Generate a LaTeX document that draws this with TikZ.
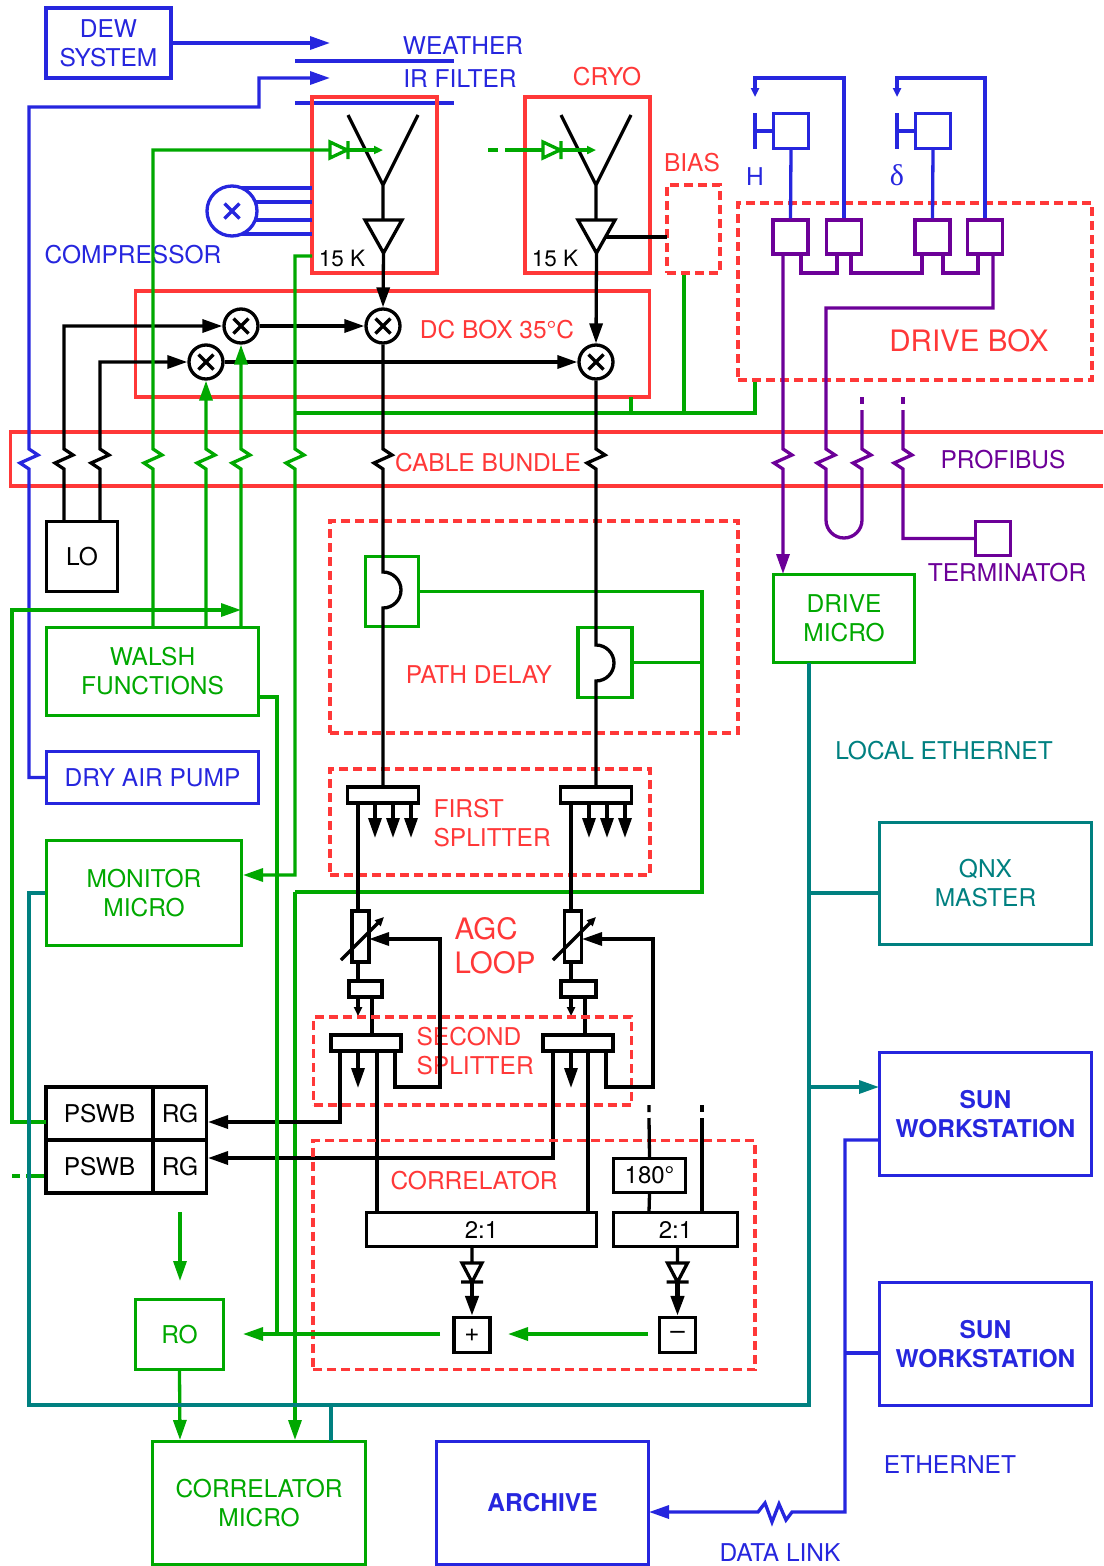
\documentclass[tikz,border=0pt]{standalone}
\usepackage{fontspec}
\setmainfont{TeX Gyre Heros}
\newfontfamily\greekfont{Liberation Serif}
\usepackage{tikz}
\usetikzlibrary{positioning, arrows.meta, calc}

\definecolor{rxblue}{RGB}{38,38,222}
\definecolor{rxred}{RGB}{255,56,56}
\definecolor{rxgreen}{RGB}{0,168,0}
\definecolor{rxpurple}{RGB}{108,0,152}
\definecolor{rxteal}{RGB}{0,128,128}

% break of a line where it runs through the cable bundle
\newcommand{\brkdn}{-- ++(9,6) -- ++(-18,8) -- ++(9,6)}
\newcommand{\brkup}{-- ++(-9,-6) -- ++(18,-8) -- ++(-9,-6)}

\begin{document}
\begin{tikzpicture}[
  x=1pt, y=-1pt,
  >={Triangle[length=20pt,width=13pt]},
  line width=3.3pt,
  every node/.style={font=\fontsize{24.5}{29}\selectfont, inner sep=0pt},
  unit/.style={draw, line width=3.3pt, align=center},
  bluebox/.style={unit, draw=rxblue, text=rxblue},
  greenbox/.style={unit, draw=rxgreen, text=rxgreen},
  tealbox/.style={unit, draw=rxteal, text=rxteal},
  pbox/.style={unit, draw=rxpurple, minimum width=35pt, minimum height=34pt},
  dbox/.style={draw=rxred, line width=3.3pt, dash pattern=on 9pt off 5pt},
  bar/.style={unit, fill=white, minimum height=16pt},
  mixer/.style={circle, draw=#1, line width=3.3pt, fill=white, minimum size=34pt,
    path picture={\draw[#1, line width=3.3pt]
      ([shift={(-7.5pt,-7.5pt)}]path picture bounding box.center) --
      ([shift={(7.5pt,7.5pt)}]path picture bounding box.center)
      ([shift={(-7.5pt,7.5pt)}]path picture bounding box.center) --
      ([shift={(7.5pt,-7.5pt)}]path picture bounding box.center);}},
  mixer/.default=black,
  bl/.style={draw=rxblue}, gr/.style={draw=rxgreen}, pu/.style={draw=rxpurple},
  tl/.style={draw=rxteal}, bk/.style={draw=black},
  tip/.style={-{Triangle[length=9pt,width=8pt]}}
]
\useasboundingbox (0,0) rectangle (1103,1566);

% ---- DEW SYSTEM and filters ----
\node[bluebox, minimum width=125pt, minimum height=70pt] (dew) at (108.5,43) {DEW\\SYSTEM};
\draw[bl,->] (dew.east) -- (330,43);
\draw[bl] (295,61) -- (454,61);
\draw[bl] (295,103) -- (454,103);
\node[text=rxblue] (weather) at (463,46) {WEATHER};
\node[text=rxblue] (irfilter) at (460,79) {IR FILTER};

% ---- CRYO ----
\node[unit, draw=rxred, minimum width=125pt, minimum height=176pt] (cryoL) at (374.5,185) {};
\node[unit, draw=rxred, minimum width=125pt, minimum height=176pt] (cryoR) at (587.5,185) {};
\node[text=rxred] (cryo) at (607,77) {CRYO};
\node[font=\fontsize{22.5}{24}\selectfont] (kL) at (342,258) {15 K};
\node[font=\fontsize{22.5}{24}\selectfont] (kR) at (555,258) {15 K};
\node[dbox, minimum width=53pt, minimum height=88pt] (bias) at (693.5,229) {};
\node[text=rxred] (biaslbl) at (692,163) {BIAS};

% ---- DC BOX ----
\node[unit, draw=rxred, minimum width=514pt, minimum height=106pt] (dcbox) at (392.5,344) {};
\node[text=rxred] (dclbl) at (497,330) {DC BOX 35°C};
\node[mixer] (m1) at (241,326) {};
\node[mixer] (m2) at (206,362) {};
\node[mixer] (m3) at (383,326) {};
\node[mixer] (m4) at (596,362) {};

% ---- CABLE BUNDLE ----
\draw[draw=rxred] (1103,432) -- (10.5,432) -- (10.5,486) -- (1103,486);
\node[text=rxred] (cablelbl) at (488,463) {CABLE BUNDLE};
\node[text=rxpurple] (profibus) at (1003,460) {PROFIBUS};

% ---- compressor ----
\foreach \y in {188,202,220,234} \draw[bl] (240,\y) -- (312,\y);
\node[mixer=rxblue, minimum size=50pt] (comp) at (232,211) {};
\node[text=rxblue] (complbl) at (133,255) {COMPRESSOR};

% ---- antennas and cold amplifiers ----
\draw[bk] (348,115) -- (383,185) -- (418,115) (383,185) -- (383,220);
\draw[bk] (365,220) -- (402,220) -- (383.5,253) -- cycle;
\draw[bk,->] (383.5,253) -- (m3.north);
\draw[bk] (561,115) -- (596,185) -- (631,115) (596,185) -- (596,220);
\draw[bk] (578,220) -- (615,220) -- (596.5,253) -- cycle;
\draw[bk,->] (596.5,253) -- (m4.north);
\draw[bk] (605,237) -- (667,237);

% ---- noise source feeds ----
\draw[gr] (330,142) -- (347,150) -- (330,158) -- cycle (348,141) -- (348,159);
\draw[gr,tip] (348,150) -- (383,150);
\draw[gr] (488,150) -- (498,150) (505,150) -- (543,150);
\draw[gr] (543,142) -- (560,150) -- (543,158) -- cycle (561,141) -- (561,159);
\draw[gr,tip] (561,150) -- (596,150);

% ---- LO ----
\node[unit, minimum width=71pt, minimum height=70pt] (lo) at (82,556.5) {LO};
\draw[bk,->] (64,521) -- (64,469) \brkup -- (64,326) -- (m1.west);
\draw[bk,->] (100,521) -- (100,469) \brkup -- (100,362) -- (m2.west);
\draw[bk,->] (m1.east) -- (m3.west);
\draw[bk,->] (m2.east) -- (m4.west);

% ---- left column ----
\node[greenbox, minimum width=212pt, minimum height=88pt] (walsh) at (152.5,671.5) {WALSH\\FUNCTIONS};
\node[bluebox, minimum width=212pt, minimum height=52pt] (dryair) at (152.5,777.5) {DRY AIR PUMP};
\node[greenbox, minimum width=195pt, minimum height=105pt] (monitor) at (144,893) {MONITOR\\MICRO};
\draw[bl,->] (dryair.west) -- (29,777.5) -- (29,469) \brkup -- (29,107) -- (259,107) -- (259,78) -- (330,78);
\draw[gr] (153,627) -- (153,469) \brkup -- (153,150) -- (330,150);
\draw[gr,->] (206,627) -- (206,469) \brkup -- (m2.south);
\draw[gr,->] (241,627) -- (241,469) \brkup -- (m1.south);
\draw[gr,->] (312,256) -- (295,256) -- (295,449) \brkdn -- (295,875) -- (243,875);
\draw[gr] (295,413) -- (755,413) -- (755,380);
\draw[gr] (631,413) -- (631,397);
\draw[gr] (684,413) -- (bias.south -| 684,0);

% ---- DRIVE BOX ----
\node[dbox, minimum width=354pt, minimum height=177pt] (drivebox) at (915,291.5) {};
\node[text=rxred, font=\fontsize{29.5}{32}\selectfont] (drivelbl) at (969,341) {DRIVE BOX};
\node[pbox] (p1) at (790.5,237) {};
\node[pbox] (p2) at (844,237) {};
\node[pbox] (p3) at (932.5,237) {};
\node[pbox] (p4) at (985,237) {};
\draw[pu] (801,254) -- (801,273) -- (837,273) -- (837,254);
\draw[pu] (851,254) -- (851,273) -- (922,273) -- (922,254);
\draw[pu] (943,254) -- (943,273) -- (978,273) -- (978,254);
\node[unit, draw=rxblue, minimum size=35pt] (s1) at (791,131) {};
\node[unit, draw=rxblue, minimum size=35pt] (s2) at (933,131) {};
\draw[bl] (755,113) -- (755,149) (755,131) -- (s1.west);
\draw[bl] (897,113) -- (897,149) (897,131) -- (s2.west);
\draw[bl] (s1.south) -- (p1.north);
\draw[bl] (s2.south) -- (p3.north);
\draw[bl,tip] (p2.north) -- (844,78) -- (755,78) -- (755,97);
\draw[bl,tip] (p4.north) -- (985,78) -- (897,78) -- (897,97);
\node[text=rxblue] (hlbl) at (755,177) {H};
\node[text=rxblue, font=\greekfont\fontsize{30}{30}\selectfont] (dlbl) at (897,175) {δ};

% ---- PROFIBUS ----
\node[greenbox, minimum width=141pt, minimum height=88pt] (dmicro) at (844,618.5) {DRIVE\\MICRO};
\node[pbox, minimum width=35pt] (term) at (993,538.5) {};
\node[text=rxpurple] (termlbl) at (1007,573) {TERMINATOR};
\draw[pu,->] (783,254) -- (783,449) \brkdn -- (783,574);
\draw[pu] (993,254) -- (993,308) -- (826,308) -- (826,449) \brkdn -- (826,520)
  arc(180:0:18) -- (862,469) \brkup -- (862,410);
\draw[pu] (862,397) -- (862,404);
\draw[pu] (903,397) -- (903,404);
\draw[pu] (903,410) -- (903,449) \brkdn -- (903,538.5) -- (term.west);

% ---- PATH DELAY ----
\node[dbox, minimum width=408pt, minimum height=212pt] (pathdelay) at (534,627) {};
\node[text=rxred] (pathlbl) at (479,675) {PATH DELAY};
\node[greenbox, minimum width=53pt, minimum height=70pt] (dL) at (392,591.5) {};
\node[greenbox, minimum width=54pt, minimum height=70pt] (dR) at (605,662.5) {};
\draw[gr] (dL.east) -- (702,591.5) -- (702,892) -- (295,892);
\draw[gr,->] (295,892) -- (295,1440);
\draw[gr] (dR.east) -- (702,662.5);

% ---- FIRST SPLITTER ----
\node[dbox, minimum width=320pt, minimum height=106pt] (split1) at (490,822) {};
\node[text=rxred, align=left, anchor=west] (firstlbl) at (432,823) {FIRST\\SPLITTER};
\node[bar, minimum width=71pt] (bL1) at (383,795) {};
\node[bar, minimum width=71pt] (bR1) at (596,795) {};
\draw[bk] (m3.south) -- (383,449) \brkdn -- (383,572) arc(-90:90:18) -- (bL1.north);
\draw[bk] (m4.south) -- (596,449) \brkdn -- (596,645) arc(-90:90:18) -- (bR1.north);
\foreach \x in {375,393,411,589,607,625} \draw[bk,->] (\x,803) -- (\x,838);

% ---- AGC LOOP ----
\node[text=rxred, align=left, anchor=west, font=\fontsize{29.5}{34}\selectfont] (agclbl) at (453,946) {AGC\\LOOP};
\draw[bk] (358,803) -- (358,911);
\draw[bk] (571,803) -- (571,911);
\node[unit, fill=white, minimum width=17pt, minimum height=51pt] (attL) at (360.5,936.5) {};
\node[unit, fill=white, minimum width=17pt, minimum height=51pt] (attR) at (573,936.5) {};
\draw[bk,tip] (341,960) -- (384,917);
\draw[bk,tip] (553,960) -- (596,917);
\node[bar, minimum width=33pt] (sbL) at (365.5,989) {};
\node[bar, minimum width=35pt] (sbR) at (578.5,989) {};
\draw[bk] (358,962) -- (358,981) (571,962) -- (571,981);
\draw[bk,tip] (358,997) -- (358,1016);
\draw[bk,tip] (571,997) -- (571,1016);
\draw[bk] (372,997) -- (372,1035) (585,997) -- (585,1035);

% ---- SECOND SPLITTER ----
\node[dbox, minimum width=318pt, minimum height=88pt] (split2) at (472.5,1061) {};
\node[text=rxred, align=left, anchor=west] (secondlbl) at (415,1051) {SECOND\\SPLITTER};
\node[bar, minimum width=70pt] (b2L) at (366,1043) {};
\node[bar, minimum width=70pt] (b2R) at (578,1043) {};
\draw[bk,->] (395,1051) -- (395,1087) -- (440,1087) -- (440,939) -- (369,939);
\draw[bk,->] (606,1051) -- (606,1087) -- (653,1087) -- (653,939) -- (582,939);
\draw[bk,->] (358,1051) -- (358,1088);
\draw[bk,->] (571,1051) -- (571,1088);

% ---- PSWB / RG ----
\node[unit, minimum width=107pt, minimum height=53pt] (pswbA) at (99.5,1113.5) {PSWB};
\node[unit, minimum width=53pt, minimum height=53pt] (rgA) at (180,1113.5) {RG};
\node[unit, minimum width=107pt, minimum height=53pt] (pswbB) at (99.5,1166.5) {PSWB};
\node[unit, minimum width=53pt, minimum height=53pt] (rgB) at (180,1166.5) {RG};
\draw[bk,->] (340,1051) |- (208,1122);
\draw[bk,->] (553,1051) |- (208,1158);
\draw[bk] (377,1051) -- (377,1212);
\draw[bk] (588,1051) -- (588,1212);
\draw[gr,->] (46,1122) -- (12,1122) -- (12,610) -- (241,610);
\draw[gr] (12,1176) -- (20,1176) (26,1176) -- (pswbB.west |- 0,1176);

% ---- CORRELATOR ----
\node[dbox, minimum width=442pt, minimum height=229pt] (corr) at (534,1255) {};
\node[text=rxred] (corrlbl) at (474,1181) {CORRELATOR};
\node[unit, minimum width=230pt, minimum height=34pt, font=\fontsize{24}{24}\selectfont] (muxL) at (481.5,1229.5) {2:1};
\node[unit, minimum width=124pt, minimum height=34pt, font=\fontsize{24}{24}\selectfont] (muxR) at (675.5,1229.5) {2:1};
\node[unit, minimum width=72pt, minimum height=34pt, font=\fontsize{24}{24}\selectfont] (deg) at (649.5,1175.5) {180°};
\node[unit, minimum width=36pt, minimum height=35pt, font=\fontsize{26}{26}\selectfont] (plus) at (472,1335) {+};
\node[unit, minimum width=36pt, minimum height=35pt, font=\fontsize{26}{26}\selectfont] (minus) at (677.5,1335) {–};
\draw[bk] (649,1105) -- (649,1112) (649,1118) -- (deg.north);
\draw[bk] (deg.south) -- (649,1212);
\draw[bk] (702,1105) -- (702,1112) (702,1118) -- (702,1212);
\draw[bk] (472,1247) -- (472,1263) (462,1263) -- (482,1263) -- (472,1282) -- cycle (461,1282) -- (483,1282);
\draw[bk,->, line width=4.3pt] (472,1282) -- (plus.north);
\draw[bk] (677.5,1247) -- (677.5,1263) (667.5,1263) -- (687.5,1263) -- (677.5,1282) -- cycle (666.5,1282) -- (688.5,1282);
\draw[bk,->, line width=4.3pt] (677.5,1282) -- (minus.north);
\draw[gr,->] (648,1334) -- (508,1334);

% ---- RO and CORRELATOR MICRO ----
\node[greenbox, minimum width=88pt, minimum height=70pt] (ro) at (179.5,1334.5) {RO};
\node[greenbox, minimum width=213pt, minimum height=123pt] (cmicro) at (259,1503) {CORRELATOR\\MICRO};
\draw[gr] (259,697) -- (277,697) -- (277,1334);
\draw[gr,->] (440,1334) -- (243,1334);
\draw[gr,->] (180,1212) -- (180,1281);
\draw[gr,->] (ro.south) -- (180,1440);

% ---- ETHERNET ----
\node[tealbox, minimum width=212pt, minimum height=122pt] (qnx) at (985.5,883.5) {QNX\\MASTER};
\node[bluebox, minimum width=212pt, minimum height=123pt, font=\fontsize{24.5}{29}\selectfont\bfseries] (sun1) at (985.5,1114) {SUN\\WORKSTATION};
\node[bluebox, minimum width=212pt, minimum height=123pt, font=\fontsize{24.5}{29}\selectfont\bfseries] (sun2) at (985.5,1344) {SUN\\WORKSTATION};
\node[bluebox, minimum width=212pt, minimum height=123pt, font=\fontsize{24.5}{29}\selectfont\bfseries] (archive) at (542.5,1503) {ARCHIVE};
\node[text=rxteal] (locallbl) at (944,751) {LOCAL ETHERNET};
\node[text=rxblue] (etherlbl) at (950,1465) {ETHERNET};
\node[text=rxblue] (linklbl) at (780,1553) {DATA LINK};
\draw[tl] (monitor.west) -- (29,893) -- (29,1405) -- (809,1405) -- (809,663);
\draw[tl] (809,893) -- (879,893);
\draw[tl,->] (809,1087) -- (879,1087);
\draw[tl] (331,1405) -- (331,1441);
\draw[bl,->] (879,1140) -- (845,1140) -- (845,1512) -- (792,1512) -- (786,1520) -- (779,1504)
  -- (772,1522) -- (765,1503) -- (758,1512) -- (649,1512);
\draw[bl] (845,1353) -- (879,1353);

\end{tikzpicture}
\end{document}
